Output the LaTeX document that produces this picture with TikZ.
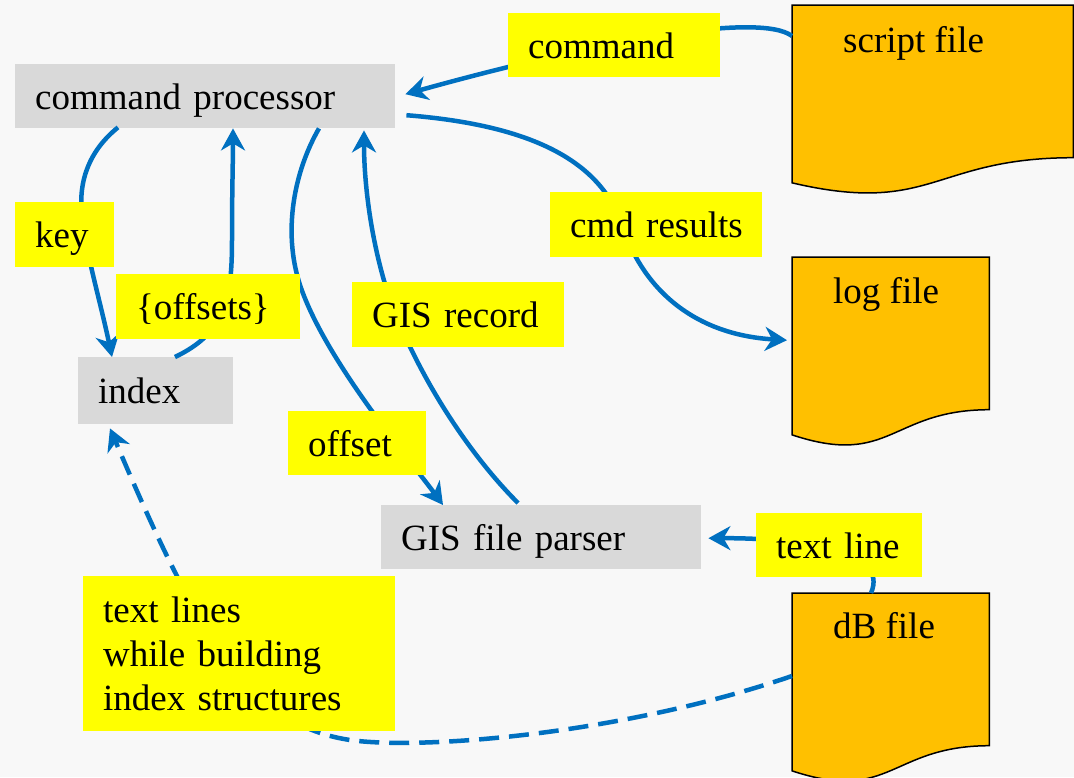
\documentclass[tikz,border=0pt]{standalone}
\usepackage{fontspec}
\setmainfont{Liberation Serif}
\usetikzlibrary{arrows.meta,calc}
\definecolor{bgcol}{HTML}{F8F8F8}
\definecolor{conblue}{HTML}{0070C0}
\definecolor{lblyellow}{HTML}{FFFF00}
\definecolor{boxgray}{HTML}{D9D9D9}
\definecolor{docorange}{HTML}{FFC000}
\newcommand{\docoutline}[1]{%
  \path[docbody] (#1.north west) -- (#1.north east)
    -- ($(#1.north east)!0.802!(#1.south east)$)
    .. controls ($(#1.north)!0.802!(#1.south)$) and ($(#1.north)!1.107!(#1.south)$)
    .. ($(#1.north west)!0.934!(#1.south west)$) -- cycle;}
\begin{document}
\begin{tikzpicture}[x=1pt,y=-1pt,
  txt/.style={font=\fontsize{37}{44}\selectfont},
  boxed/.style={txt, inner ysep=0pt, inner xsep=20pt, anchor=north west, align=left},
  oneline/.style={text height=28pt, text depth=2pt},
  graybox/.style={boxed, oneline, fill=boxgray},
  yellowbox/.style={boxed, fill=lblyellow},
  docnode/.style={minimum width=#1, minimum height=190pt, inner sep=0pt, anchor=north west},
  doctext/.style={txt, inner sep=0pt, anchor=base west},
  docbody/.style={fill=docorange, draw=black, line width=1.5pt},
  conn/.style={draw=conblue, line width=4.5pt, -{Stealth[length=22pt,width=24pt,inset=7pt]}},
  dashconn/.style={conn, dash pattern=on 20pt off 10pt}
]
\useasboundingbox (0,0) rectangle (1074,777);
\clip (0,0) rectangle (1074,777);
\fill[bgcol] (0,0) rectangle (1074,777);

% main boxes
\node[graybox, minimum width=380pt, text width=340pt, minimum height=64pt] (cp) at (15,64) {command processor};
\node[graybox, minimum width=155pt, text width=115pt, minimum height=67pt] (index) at (78,357) {index};
\node[graybox, minimum width=320pt, text width=280pt, minimum height=64pt] (parser) at (381,505) {GIS file parser};

% documents
\node[docnode=281pt] (script) at (792,5) {};
\node[docnode=197pt] (log) at (792,257) {};
\node[docnode=197pt] (db) at (792,593) {};
\docoutline{script}
\docoutline{log}
\docoutline{db}
\node[doctext] (scripttxt) at (843,52) {script file};
\node[doctext] (logtxt) at (833,303) {log file};
\node[doctext] (dbtxt) at (833,638) {dB file};

% connectors
\draw[conn] ($(script.north west)+(0,31)$) .. controls (760,12) and (600,40) .. ($(cp.east)+(10,-2)$);
\draw[conn] ($(cp.east)+(11,19)$) .. controls (530,125) and (600,160) .. (622,225)
  .. controls (645,295) and (700,335) .. ($(log.west)+(-5,-12)$);
\draw[conn] ($(cp.south west)+(103,-1)$) .. controls (90,150) and (78,180) .. (82,215)
  .. controls (85,250) and (100,300) .. ($(index.north west)+(34,0)$);
\draw[conn] ($(index.north west)+(97,0)$) .. controls (225,333) and (232,300) .. (232,240)
  .. controls (232,190) and (233,160) .. ($(cp.south west)+(218,0)$);
\draw[conn] ($(cp.south west)+(304,0)$) .. controls (295,170) and (282,230) .. (300,285)
  .. controls (325,360) and (410,460) .. ($(parser.north west)+(62,0)$);
\draw[conn] ($(parser.north west)+(137,-2)$) .. controls (470,455) and (420,380) .. (390,300)
  .. controls (370,240) and (364,180) .. ($(cp.south west)+(349,2)$);
\draw[conn] ($(db.north west)+(79,0)$) .. controls (890,550) and (800,538) .. ($(parser.east)+(7,1)$);
\draw[dashconn] ($(db.north west)+(0,83)$) .. controls (620,735) and (420,750) .. (350,740)
  .. controls (250,725) and (200,640) .. ($(index.south west)+(32,4)$);

% connector labels
\node[yellowbox, oneline, minimum width=212pt, text width=172pt, minimum height=64pt] (command) at (508,13) {command};
\node[yellowbox, oneline, minimum width=212pt, text width=172pt, minimum height=65pt] (cmdres) at (550,192) {\mbox{cmd results}};
\node[yellowbox, oneline, minimum width=99pt, text width=59pt, minimum height=65pt] (key) at (15,202) {key};
\node[yellowbox, oneline, minimum width=184pt, text width=144pt, minimum height=65pt] (offsets) at (116,274) {\{offsets\}};
\node[yellowbox, oneline, minimum width=212pt, text width=172pt, minimum height=65pt] (gisrec) at (352,282) {\mbox{GIS record}};
\node[yellowbox, oneline, minimum width=138pt, text width=98pt, minimum height=64pt] (offset) at (288,411) {offset};
\node[yellowbox, oneline, minimum width=166pt, text width=126pt, minimum height=64pt] (textline) at (756,513) {\mbox{text line}};
\node[yellowbox, minimum width=312pt, text width=272pt, minimum height=155pt] (textlines) at (83,576) {text lines\\while building\\index structures};
\end{tikzpicture}
\end{document}
